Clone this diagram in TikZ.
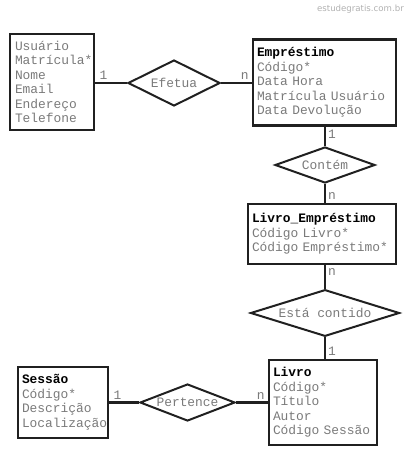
\documentclass[tikz,border=0pt]{standalone}
\usepackage{fontspec}
\newfontfamily\monof{Liberation Mono}
\newfontfamily\wmf{DejaVu Sans}
\usetikzlibrary{shapes.geometric}
\definecolor{txtgray}{HTML}{7A7A7A}
\definecolor{edge}{HTML}{202020}
\definecolor{wmgray}{HTML}{B0B0B0}
\newcommand{\erfont}{\monof\fontsize{12.9}{14.5}\selectfont\spaceskip=0.6em\relax}
\tikzset{
  entity/.style={draw=edge, line width=2.6pt, rectangle, align=left, inner xsep=4pt, inner ysep=2pt,
    font=\erfont, text=txtgray},
  rel/.style={draw=edge, line width=2pt, diamond, inner sep=0pt, aspect=2.5,
    font=\erfont, text=txtgray},
  conn/.style={draw=edge, line width=2.4pt},
  card/.style={font=\erfont, text=txtgray, inner sep=1pt}
}
\newcommand{\ttlb}[1]{\textcolor{black}{\textbf{#1}}}
\begin{document}
\begin{tikzpicture}[x=1pt,y=-1pt]
\useasboundingbox (0,0) rectangle (407,462);
\node[font=\wmf\fontsize{8.6}{10}\selectfont, text=wmgray, anchor=east, inner sep=0pt] (wm) at (404,9) {estudegratis.com.br};

\node[entity, minimum width=84pt, minimum height=96pt, text width=74pt] (usr) at (52,82)
  {Usuário\\Matrícula*\\Nome\\Email\\Endereço\\Telefone};
\node[entity, minimum width=143pt, minimum height=86pt, text width=135pt] (emp) at (324.5,82.5)
  {\ttlb{Empréstimo}\\Código*\\Data Hora\\Matrícula Usuário\\Data Devolução};
\node[entity, minimum width=148pt, minimum height=60pt, text width=140pt] (le) at (322,234)
  {\ttlb{Livro\_Empréstimo}\\Código Livro*\\Código Empréstimo*};
\node[entity, minimum width=108pt, minimum height=85pt, text width=100pt] (liv) at (323,402.5)
  {\ttlb{Livro}\\Código*\\Título\\Autor\\Código Sessão};
\node[entity, minimum width=88pt, minimum height=71pt, text width=82pt] (ses) at (63,402.5)
  {\ttlb{Sessão}\\Código*\\Descrição\\Localização};

\node[rel, minimum width=92pt, minimum height=46pt] (efe) at (174,83) {Efetua};
\node[rel, minimum width=100pt, minimum height=36pt] (con) at (325,165) {Contém};
\node[rel, minimum width=149pt, minimum height=38pt] (est) at (325,313) {Está contido};
\node[rel, minimum width=95pt, minimum height=37pt] (per) at (187.5,402.5) {Pertence};

\draw[conn] (usr.east |- efe.west) -- (efe.west) node[card, pos=0, anchor=south west, xshift=2pt, yshift=1pt] {1};
\draw[conn] (efe.east) -- (efe.east -| emp.west) node[card, pos=1, anchor=south east, xshift=-1pt, yshift=1pt] {n};
\draw[conn] (con.north |- emp.south) -- (con.north) node[card, pos=0, anchor=north west, xshift=1pt, yshift=-1pt] {1};
\draw[conn] (con.south) -- (con.south |- le.north) node[card, pos=1, anchor=south west, xshift=1pt, yshift=1pt] {n};
\draw[conn] (est.north |- le.south) -- (est.north) node[card, pos=0, anchor=north west, xshift=1pt, yshift=-1pt] {n};
\draw[conn] (est.south) -- (est.south |- liv.north) node[card, pos=1, anchor=south west, xshift=1pt, yshift=1pt] {1};
\draw[conn] (ses.east |- per.west) -- (per.west) node[card, pos=0, anchor=south west, xshift=2pt, yshift=1pt] {1};
\draw[conn] (per.east) -- (per.east -| liv.west) node[card, pos=1, anchor=south east, xshift=-1pt, yshift=1pt] {n};
\end{tikzpicture}
\end{document}
